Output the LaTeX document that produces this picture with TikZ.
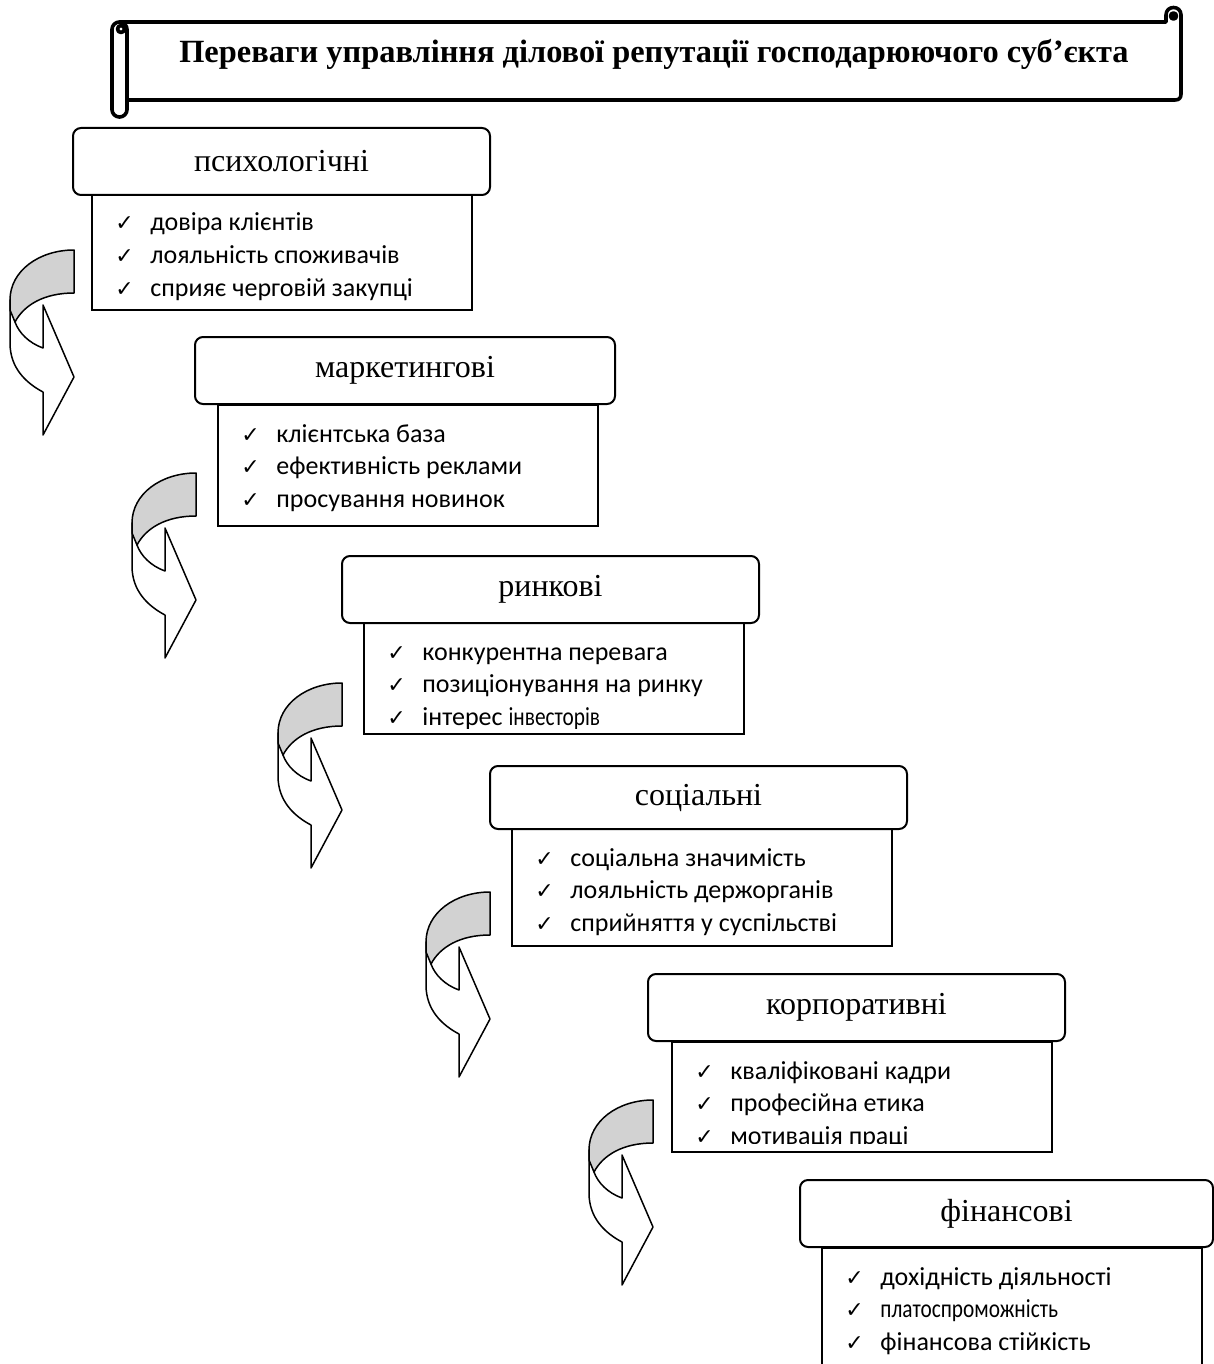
\documentclass[tikz,border=0pt]{standalone}
\usepackage{fontspec}
\setmainfont{Liberation Serif}
\newfontfamily\listfont{Carlito}
\newfontfamily\symfont{DejaVu Sans}
\usetikzlibrary{positioning}

\newcommand{\itm}[1]{\makebox[17.5pt][l]{\symfont\fontsize{11}{12}\selectfont ✓}#1}
\newcommand{\narrow}[1]{\scalebox{0.82}[1]{#1}}

\begin{document}
\begin{tikzpicture}[x=0.5pt,y=-0.5pt,
  scroll/.style={draw=black,line width=1.8pt,line join=round},
  hdr/.style={draw=black,line width=1pt,rounded corners=4pt,fill=white,anchor=north west,outer sep=0pt,inner sep=0pt,minimum width=208.5pt,minimum height=33.5pt,font=\fontsize{16}{19}\selectfont},
  lst/.style={draw=black,line width=1pt,anchor=north west,outer sep=0pt,inner sep=0pt,minimum width=190pt},
  items/.style={anchor=base west,inner sep=0pt,font=\listfont\fontsize{13}{16.25}\selectfont},
  bendarrow/.style={draw=black,line width=0.75pt,line join=round}]
\useasboundingbox (0,0) rectangle (1214,1364);
\clip (0,0) rectangle (1214,1364);

% scroll with the title
\draw[scroll] (127,100) -- (1175,100) .. controls (1179,100) and (1181,98) .. (1181,94) -- (1181,15) .. controls (1181,5) and (1166,5) .. (1166,15) -- (1166,22) -- (120,22);
\draw[scroll,fill=black] (1173.5,16) circle[radius=3];
\draw[scroll,rounded corners=3.7pt,fill=white] (112,22) rectangle (127,117);
\draw[scroll] (121,29) circle[radius=3.5];
\node[anchor=base,font=\bfseries\fontsize{16.2}{19}\selectfont] (title) at (654,63) {Переваги управління ділової репутації господарюючого суб’єкта};

% bent arrows
\foreach \ax/\ay in {74/250,196/473,342/683,490/892,653/1100}{
  \begin{scope}[shift={(\ax,\ay)}]
    \draw[bendarrow,fill=white] (-64,50) -- (-64,93) .. controls (-64,118) and (-48,133) .. (-31,142) -- (-31,185) -- (0,127) -- (-31,55) -- (-31,98) .. controls (-45,93) and (-55,83) .. (-59,72) -- cycle;
    \draw[bendarrow,fill=gray!35] (0,0) .. controls (-35,0) and (-64,21) .. (-64,50) -- (-64,60) -- (-59,72) .. controls (-50,55) and (-30,43) .. (0,43) -- cycle;
  \end{scope}
}

% psychological
\node[lst,minimum height=58pt] (l1) at (92,194) {};
\node[hdr] (h1) at (73,128) {психологічні};
\node[items] (t1) at (115,231) {\begin{tabular}[t]{@{}l@{}}\itm{довіра клієнтів}\\ \itm{лояльність споживачів}\\ \itm{сприяє черговій закупці}\end{tabular}};

% marketing
\node[lst,minimum height=60.5pt] (l2) at (218,405) {};
\node[hdr,minimum width=210pt] (h2) at (195,337) {маркетингові};
\node[items] (t2) at (241,442) {\begin{tabular}[t]{@{}l@{}}\itm{клієнтська база}\\ \itm{ефективність реклами}\\ \itm{просування новинок}\end{tabular}};

% market
\node[lst,minimum height=55.5pt] (l3) at (364,623) {};
\node[hdr] (h3) at (342,556) {ринкові};
\begin{scope}
  \clip (364,623) rectangle (744,728);
  \node[items] (t3) at (387,660) {\begin{tabular}[t]{@{}l@{}}\itm{конкурентна перевага}\\ \itm{позиціонування на ринку}\\ \itm{інтерес \narrow{інвесторів}}\end{tabular}};
\end{scope}

% social
\node[lst,minimum height=58.5pt] (l4) at (512,829) {};
\node[hdr,minimum height=31.5pt] (h4) at (490,766) {соціальні};
\node[items] (t4) at (535,866) {\begin{tabular}[t]{@{}l@{}}\itm{соціальна значимість}\\ \itm{лояльність держорганів}\\ \itm{сприйняття у суспільстві}\end{tabular}};

% corporate
\node[lst,minimum height=55pt] (l5) at (672,1042) {};
\node[hdr] (h5) at (648,974) {корпоративні};
\begin{scope}
  \clip (672,1042) rectangle (1050,1143);
  \node[items] (t5) at (695,1079) {\begin{tabular}[t]{@{}l@{}}\itm{кваліфіковані кадри}\\ \itm{професійна етика}\\ \itm{мотивація праці}\end{tabular}};
\end{scope}

% financial
\node[lst,minimum height=70pt] (l6) at (822,1248) {};
\node[hdr,minimum width=206.5pt] (h6) at (800,1180) {фінансові};
\node[items] (t6) at (845,1285) {\begin{tabular}[t]{@{}l@{}}\itm{дохідність діяльності}\\ \itm{\narrow{платоспроможність}}\\ \itm{фінансова стійкість}\end{tabular}};
\end{tikzpicture}
\end{document}
